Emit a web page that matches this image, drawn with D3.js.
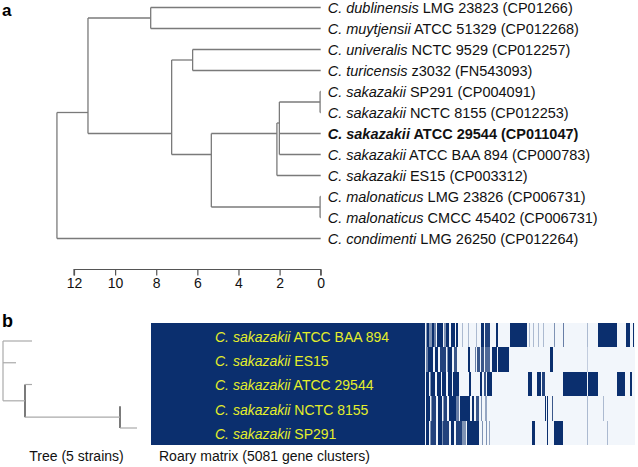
<!DOCTYPE html>
<html><head><meta charset="utf-8">
<script src="https://cdn.jsdelivr.net/npm/d3@7"></script>
<style>
html,body{margin:0;padding:0;background:#fff;}
svg{display:block;font-family:"Liberation Sans",Arial,sans-serif;}
</style></head>
<body><svg id="c" width="638" height="467"></svg>
<script>
// ---------- Panel a data ----------
const species = ["C. dublinensis","C. muytjensii","C. univeralis","C. turicensis","C. sakazakii","C. sakazakii","C. sakazakii","C. sakazakii","C. sakazakii","C. malonaticus","C. malonaticus","C. condimenti"];
const strains = ["LMG 23823 (CP01266)","ATCC 51329 (CP012268)","NCTC 9529 (CP012257)","z3032 (FN543093)","SP291 (CP004091)","NCTC 8155 (CP012253)","ATCC 29544 (CP011047)","ATCC BAA 894 (CP000783)","ES15 (CP003312)","LMG 23826 (CP006731)","CMCC 45402 (CP006731)","LMG 26250 (CP012264)"];
const highlightedLeaf = 6;
// internal nodes: children = leaf index (number) or node id (string); height in axis units
const mergeIds = ["n1","n2","n3","n4","n5","n6","n7","n8","n9","n10"];
const mergeChildren = [[4,5],[9,10],["n1",6,7],["n3",8],["n4","n2"],[2,3],["n6","n5"],[0,1],["n8","n7"],["n9",11]];
const mergeHeights = [0.03,0.03,2.01,2.13,5.32,6.23,7.25,8.27,11.32,12.83];
const axisTicks = [12,10,8,6,4,2,0];

// ---------- Panel b data ----------
const rowStrains = ["ATCC BAA 894","ES15","ATCC 29544","NCTC 8155","SP291"];
const rowSpecies = "C. sakazakii";
const leafDepthB = [0.29,0.13,0.29,1.17,1.34];
const nodeIdsB = ["M","N","R"];
const nodeChildrenB = [[3,4],[2,"M"],[0,1,"N"]];
const nodeDepthB = [1.17,0.22,0];
const totalGenes = 5081;
// presence segments per strain: [startGene, endGene, intensity]
const presence = [
 [[0,2880,1],[2890,2900,0.5],[2900,2920,1],[2920,2945,0.5],[2950,2970,1],[2975,2995,0.6],[3000,3070,1],[3075,3095,0.5],[3100,3130,1],[3150,3190,1],[3200,3220,1],[3260,3280,0.3],[3330,3340,0.3],[3410,3420,0.3],[3460,3500,1],[3510,3560,0.9],[3620,3640,1],[3770,3950,1],[3970,3980,0.3],[4010,4020,0.3],[4060,4070,0.3],[4110,4120,0.3],[4230,4240,0.5],[4330,4340,0.6],[4580,4590,0.3],[4690,4890,1],[4990,5030,1],[5060,5070,1]],
 [[0,2880,1],[2885,2905,0.6],[2910,2960,1],[2980,3010,1],[3030,3100,0.9],[3105,3115,0.5],[3120,3160,1],[3180,3210,0.8],[3330,3350,1],[3400,3410,0.6],[3420,3450,0.8],[3460,3500,0.8],[3510,3560,0.7],[3580,3630,1],[3640,3760,1],[4190,4220,1],[4580,4590,0.2]],
 [[0,2880,1],[2890,2920,1],[2925,2935,0.5],[2940,2980,1],[3000,3040,1],[3060,3100,1],[3120,3160,1],[3170,3230,1],[3340,3360,1],[3450,3480,1],[3500,3520,0.8],[3530,3580,1],[3960,4000,1],[4050,4090,1],[4100,4140,0.9],[4330,4580,1],[4590,4690,1],[4890,4980,1],[5030,5050,1]],
 [[0,2880,1],[2890,2930,1],[2935,2945,0.5],[2950,2990,0.9],[3010,3060,1],[3065,3075,0.5],[3080,3110,0.9],[3130,3200,1],[3205,3235,0.6],[3240,3350,1],[3370,3390,1],[3410,3440,0.8],[3460,3480,0.5],[3510,3530,0.4],[4140,4150,1],[4160,4170,1],[4210,4220,0.8],[4580,4590,0.3],[4740,4750,0.3]],
 [[0,2880,1],[2890,2920,1],[2925,2935,0.5],[2940,2990,0.9],[3010,3050,1],[3055,3065,0.5],[3070,3130,0.9],[3150,3180,1],[3200,3260,0.9],[3270,3310,0.5],[3320,3440,1],[3480,3490,0.5],[3520,3530,0.5],[3550,3560,0.4],[4000,4030,1],[4160,4170,1],[4230,4330,1],[4580,4590,0.3],[4790,4800,0.3]]
];

const svg = d3.select("#c");
const lineCol = "#7a7a7a";

// ---------- Panel a ----------
svg.append("text").attr("x",2).attr("y",15.6).attr("font-size",17).attr("font-weight","bold").text("a");
const x = d3.scaleLinear().domain([12,0]).range([74,320.7]);
const yLeaf = d3.scaleLinear().domain([0,species.length-1]).range([7.5,238.5]);
const nodes = {};
species.forEach((s,i)=>{ nodes[i] = {y:yLeaf(i), h:0, leaves:[i]}; });
mergeIds.forEach((id,k)=>{
  const ch = mergeChildren[k].map(c=>nodes[c]);
  const leaves = [].concat(...ch.map(c=>c.leaves));
  nodes[id] = {h:mergeHeights[k], children:ch, leaves, y:d3.mean(leaves, l=>yLeaf(l))};
});
const gTree = svg.append("g").attr("stroke",lineCol).attr("stroke-width",1.3).attr("fill","none");
mergeIds.forEach(id=>{
  const n = nodes[id];
  const ys = n.children.map(c=>c.y);
  gTree.append("line").attr("x1",x(n.h)).attr("x2",x(n.h)).attr("y1",d3.min(ys)).attr("y2",d3.max(ys));
  n.children.forEach(c=>{
    gTree.append("line").attr("x1",x(n.h)).attr("x2",x(c.h)).attr("y1",c.y).attr("y2",c.y);
  });
});
const lab = svg.append("g").attr("font-size",14.5).attr("fill","#111");
species.forEach((s,i)=>{
  const t = lab.append("text").attr("x",x(0)+7).attr("y",yLeaf(i)).attr("dy","0.35em");
  const bold = i===highlightedLeaf;
  t.append("tspan").attr("font-style","italic").attr("font-weight",bold?"bold":null).text(s);
  t.append("tspan").attr("font-weight",bold?"bold":null).text(" "+strains[i]);
});
const axis = d3.axisBottom(x).tickValues(axisTicks).tickSize(6).tickPadding(3).tickFormat(d3.format("d"));
const gAx = svg.append("g").attr("transform","translate(0,269.5)").call(axis);
gAx.selectAll("path,line").attr("stroke","#555").attr("stroke-width",1.2);
gAx.select(".domain").attr("d",`M${x(12)},6V0H${x(0)}V6`);
gAx.selectAll("text").attr("font-size",14).attr("fill","#111").attr("font-family","Liberation Sans, Arial, sans-serif");

// ---------- Panel b ----------
svg.append("text").attr("x",2).attr("y",327).attr("font-size",18).attr("font-weight","bold").text("b");
const xb = d3.scaleLinear().domain([0,1.34]).range([3,137]);
const yb = d3.scaleLinear().domain([0,4]).range([341,428]);
const nb = {};
rowStrains.forEach((s,i)=>{ nb[i] = {d:leafDepthB[i], y:yb(i), leaf:true}; });
nodeIdsB.forEach((id,k)=>{
  const ch = nodeChildrenB[k].map(c=>nb[c]);
  nb[id] = {d:nodeDepthB[k], children:ch, y:d3.mean(ch, c=>c.y)};
});
const gB = svg.append("g").attr("fill","none").attr("stroke-width",1.2);
nodeIdsB.forEach(id=>{
  const n = nb[id];
  const ys = n.children.map(c=>c.y);
  gB.append("line").attr("stroke", id==="R" ? "#aaa" : "#222")
    .attr("x1",xb(n.d)).attr("x2",xb(n.d)).attr("y1",d3.min(ys)).attr("y2",d3.max(ys));
  n.children.forEach(c=>{
    if (c.d > n.d) gB.append("line").attr("stroke","#aaa")
      .attr("x1",xb(n.d)).attr("x2",xb(c.d)).attr("y1",c.y).attr("y2",c.y);
  });
});
svg.append("text").attr("x",76.5).attr("y",461).attr("text-anchor","middle").attr("font-size",14).attr("fill","#111").text("Tree (5 strains)");

const xm = d3.scaleLinear().domain([0,totalGenes]).range([151,635]);
const ym = d3.scaleBand().domain(d3.range(rowStrains.length)).range([323,445]);
const dark = "#0b2f6e";
svg.append("rect").attr("x",xm(0)).attr("y",ym(0)).attr("width",xm(totalGenes)-xm(0)).attr("height",ym.step()*rowStrains.length).attr("fill","#f2f6fb").attr("shape-rendering","crispEdges");
const gM = svg.append("g").attr("shape-rendering","crispEdges");
presence.forEach((segs,r)=>{
  const y0 = Math.round(ym(r)), y1 = Math.round(ym(r)+ym.bandwidth());
  segs.forEach(([s,e,a])=>{
    gM.append("rect").attr("x",xm(s)).attr("y",y0).attr("width",Math.max(1,xm(e)-xm(s))).attr("height",y1-y0)
      .attr("fill",dark).attr("fill-opacity",a);
  });
});
const gML = svg.append("g").attr("font-size",14).attr("fill","#e4ee2a");
rowStrains.forEach((s,i)=>{
  const t = gML.append("text").attr("x",215).attr("y",ym(i)+ym.bandwidth()/2+1.5).attr("dy","0.35em");
  t.append("tspan").attr("font-style","italic").text(rowSpecies);
  t.append("tspan").text(" "+s);
});
svg.append("text").attr("x",159).attr("y",461).attr("font-size",14).attr("fill","#111").text("Roary matrix (5081 gene clusters)");
</script></body></html>
